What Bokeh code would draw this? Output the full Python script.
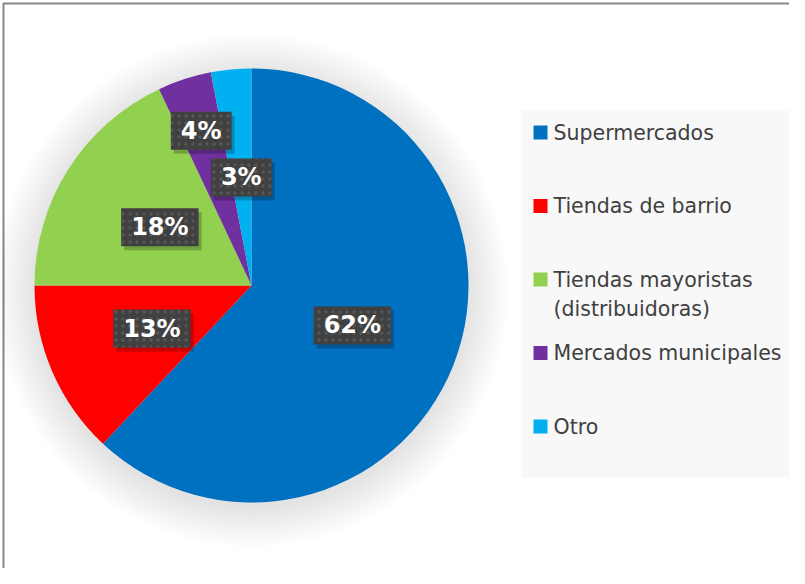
import numpy as np
from bokeh.plotting import figure
from bokeh.models import Range1d, ColumnDataSource
from bokeh.core.properties import value
from bokeh.embed import file_html
from bokeh.resources import INLINE

# ---- data ----
categories = ["Supermercados", "Tiendas de barrio", "Tiendas mayoristas\n(distribuidoras)",
              "Mercados municipales", "Otro"]
shares = [62, 13, 18, 4, 3]
labels = ["62%", "13%", "18%", "4%", "3%"]
colors = ["#0070C0", "#FF0000", "#92D050", "#7030A0", "#00B0F0"]

# ---- layout (page pixel coordinates, y flipped) ----
W, H = 789, 568
PAGE_H = 584
CX, CY, R = 259, PAGE_H - 293, 217
label_r = [0.5, 0.5, 0.5, 0.75, 0.5]

vals = np.array(shares, dtype=float)
frac = vals / vals.sum()
cum_end = np.cumsum(frac)
cum_start = cum_end - frac
start = np.pi / 2 - 2 * np.pi * cum_start
end = np.pi / 2 - 2 * np.pi * cum_end
mid = (start + end) / 2
lx = CX + np.array(label_r) * R * np.cos(mid)
ly = CY + np.array(label_r) * R * np.sin(mid)

src = ColumnDataSource(dict(start=start, end=end, color=colors, lx=lx, ly=ly, label=labels))

p = figure(width=W, height=H, x_range=Range1d(8, 8 + W), y_range=Range1d(PAGE_H - 8 - H, PAGE_H - 8),
           output_backend="svg", toolbar_location=None, min_border=0,
           x_axis_type=None, y_axis_type=None, outline_line_color=None,
           background_fill_color="white", border_fill_color="white")
p.grid.visible = False

# frame
p.line(x=[11, 11, 8 + W], y=[PAGE_H - 8 - H, PAGE_H - 11, PAGE_H - 11], line_color="#878787", line_width=2)

# soft shadow around pie
for k in range(14):
    p.circle(x=CX, y=CY - 5, radius=R + 1 + k * 3, fill_color="black", fill_alpha=0.008, line_color=None)

# pie
p.wedge(x=CX, y=CY, radius=R, start_angle="start", end_angle="end", direction="clock",
        fill_color="color", line_color=None, source=src)

pad = dict(left=10, right=10, top=5, bottom=5)
# label shadows
p.text(x="lx", y="ly", text="label", source=src, text_font=value("DejaVu Sans"), text_font_style="bold",
       text_font_size="24px", text_alpha=0, text_align="center", text_baseline="middle",
       x_offset=3, y_offset=4, background_fill_color="black", background_fill_alpha=0.22, padding=pad)
# labels
p.text(x="lx", y="ly", text="label", source=src, text_font=value("DejaVu Sans"), text_font_style="bold",
       text_font_size="24px", text_color="white", text_align="center", text_baseline="middle",
       background_fill_color="#404040", padding=pad,
       background_hatch_pattern="dot", background_hatch_color="#565656",
       background_hatch_scale=7, background_hatch_weight=1)

# legend
p.quad(left=529, right=8 + W, bottom=PAGE_H - 485, top=PAGE_H - 118, fill_color="#f8f8f8", line_color=None)
row_y = [PAGE_H - (140 + 73.5 * i) for i in range(len(categories))]
leg = ColumnDataSource(dict(y=row_y, ty=[y + 12 for y in row_y], name=categories, color=colors))
p.rect(x=548, y="y", width=14, height=14, fill_color="color", line_color=None, source=leg)
p.text(x=561, y="ty", text="name", source=leg, text_font=value("DejaVu Sans"), text_font_size="20.5px",
       text_color="#404040", text_align="left", text_baseline="top", text_line_height=1.22)

open("out.html", "w").write(file_html(p, INLINE))
